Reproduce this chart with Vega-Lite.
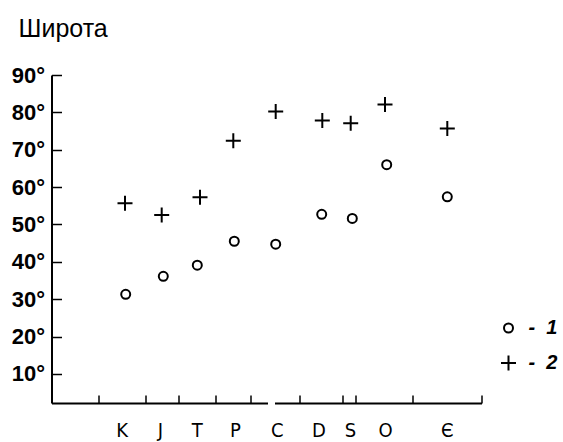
{
  "$schema": "https://vega.github.io/schema/vega-lite/v6.json",
  "width": 430,
  "height": 328,
  "autosize": {"type": "none"},
  "padding": {"left": 51.5, "top": 75, "right": 81.5, "bottom": 39},
  "background": "white",
  "config": {"view": {"stroke": null}, "font": "Liberation Sans"},
  "resolve": {"axis": {"x": "independent"}},
  "layer": [
    {
      "data": {"values": [
        {"period": "K", "t": 74.2, "series": "1", "lat": 31.3},
        {"period": "K", "t": 73.5, "series": "2", "lat": 55.7},
        {"period": "J", "t": 111.8, "series": "1", "lat": 36.1},
        {"period": "J", "t": 110.2, "series": "2", "lat": 52.5},
        {"period": "T", "t": 145.8, "series": "1", "lat": 39.1},
        {"period": "T", "t": 148.5, "series": "2", "lat": 57.3},
        {"period": "P", "t": 182.8, "series": "1", "lat": 45.5},
        {"period": "P", "t": 181.8, "series": "2", "lat": 72.4},
        {"period": "C", "t": 224.2, "series": "1", "lat": 44.7},
        {"period": "C", "t": 224.2, "series": "2", "lat": 80.2},
        {"period": "D", "t": 270.2, "series": "1", "lat": 52.7},
        {"period": "D", "t": 270.8, "series": "2", "lat": 77.8},
        {"period": "S", "t": 300.8, "series": "1", "lat": 51.6},
        {"period": "S", "t": 299.2, "series": "2", "lat": 77.1},
        {"period": "O", "t": 335.2, "series": "1", "lat": 66.0},
        {"period": "O", "t": 333.5, "series": "2", "lat": 82.1},
        {"period": "Є", "t": 395.8, "series": "1", "lat": 57.4},
        {"period": "Є", "t": 395.8, "series": "2", "lat": 75.7}
      ]},
      "mark": {"type": "point", "filled": false, "strokeWidth": 2, "color": "black", "opacity": 1, "size": 225},
      "encoding": {
        "x": {
          "field": "t", "type": "quantitative",
          "scale": {"domain": [0, 430], "nice": false, "zero": false},
          "axis": {
            "orient": "bottom",
            "title": null,
            "grid": false,
            "labels": false,
            "values": [46.8, 93.5, 126.8, 163.5, 198.5, 248.5, 290.8, 304.2, 360.8, 430],
            "tickSize": -8,
            "tickWidth": 1.5,
            "tickColor": "black",
            "domainColor": "black",
            "domainWidth": 2
          }
        },
        "y": {
          "field": "lat", "type": "quantitative",
          "scale": {"domain": [2.2, 90], "nice": false, "zero": false},
          "axis": {
            "grid": false,
            "values": [10, 20, 30, 40, 50, 60, 70, 80, 90],
            "labelExpr": "datum.value + '°'",
            "title": "Широта",
            "titleAngle": 0,
            "titleAlign": "left",
            "titleBaseline": "alphabetic",
            "titleX": -33.5,
            "titleY": -38.5,
            "titleFontSize": 25,
            "titleFontWeight": "normal",
            "titleColor": "black",
            "labelFontSize": 22,
            "labelFontWeight": "bold",
            "labelColor": "black",
            "labelBaseline": "middle",
            "labelPadding": 17,
            "labelOverlap": false,
            "labelFlush": false,
            "tickSize": -10,
            "tickWidth": 1.5,
            "tickColor": "black",
            "domainColor": "black",
            "domainWidth": 2
          }
        },
        "shape": {
          "field": "series", "type": "nominal",
          "scale": {"domain": ["1", "2"], "range": ["M0.6,0A0.6,0.6,0,1,1,-0.6,0A0.6,0.6,0,1,1,0.6,0Z", "M-1,0H1M0,-1V1"]},
          "legend": {
            "title": null,
            "orient": "none",
            "legendX": 447,
            "legendY": 243,
            "padding": 0,
            "symbolSize": 225,
            "symbolStrokeWidth": 2,
            "symbolStrokeColor": "black",
            "symbolFillColor": "transparent",
            "symbolOffset": 0,
            "labelOffset": 10,
            "labelExpr": "'-\u00a0\u00a0' + datum.label",
            "labelFontSize": 20,
            "labelFontStyle": "italic",
            "labelFontWeight": 600,
            "labelColor": "black",
            "rowPadding": 13
          }
        }
      }
    },
    {
      "data": {"values": [{"gap": "axis break"}]},
      "mark": {"type": "rule", "color": "white", "strokeWidth": 5},
      "encoding": {
        "x": {
          "datum": 216.5, "type": "quantitative",
          "axis": {
            "orient": "bottom",
            "title": null,
            "grid": false,
            "domain": false,
            "ticks": false,
            "values": [70.2, 108.5, 145.2, 183.5, 225.2, 266.8, 298.5, 333.5, 395.2],
            "labelExpr": "['K','J','T','P','C','D','S','O','Є'][indexof([70.2,108.5,145.2,183.5,225.2,266.8,298.5,333.5,395.2], datum.value)]",
            "labelPadding": 17,
            "labelBaseline": "top",
            "labelFont": "Liberation Sans Narrow, DejaVu Sans Condensed, Liberation Sans",
            "labelFontSize": 20,
            "labelColor": "black",
            "labelFlush": false,
            "labelOverlap": false
          }
        },
        "x2": {"datum": 223.5},
        "y": {"datum": 2.2, "type": "quantitative"}
      }
    }
  ]
}
